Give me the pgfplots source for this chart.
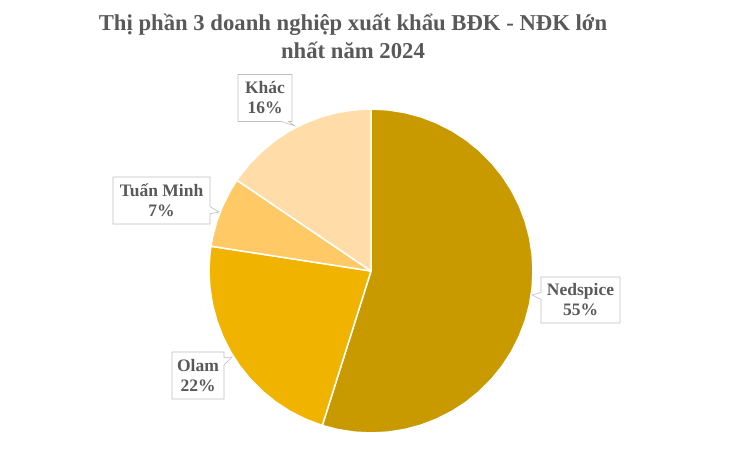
\documentclass[border=0pt]{standalone}
\usepackage{fontspec}
\setmainfont{Liberation Serif}
\usepackage{pgfplots}
\pgfplotsset{compat=1.18}
\usetikzlibrary{shapes.callouts}
\definecolor{cNed}{HTML}{C89A00}
\definecolor{cOlam}{HTML}{F0B300}
\definecolor{cTuan}{HTML}{FFC966}
\definecolor{cKhac}{HTML}{FFDCA8}
\definecolor{txt}{HTML}{595959}
\definecolor{bord}{HTML}{BFBFBF}
\begin{document}
\begin{tikzpicture}
% Shares: Nedspice 54.9, Olam 22.6, Tuan Minh 7.0, Khac 15.5 (clockwise from top)
\begin{axis}[
  scale only axis, width=743bp, height=471bp,
  xmin=-371, xmax=372, ymin=-200, ymax=271,
  hide axis, clip=false,
]
\path (rel axis cs:0,0) rectangle (rel axis cs:1,1);
\addplot[fill=cNed, draw=white, line width=1.5pt, data cs=polar] coordinates {
(0,0) (90,162) (84,162) (78,162) (72,162) (66,162) (60,162) (54,162) (48,162) (42,162) (36,162)
(30,162) (24,162) (18,162) (12,162) (6,162) (0,162) (-6,162) (-12,162) (-18,162) (-24,162)
(-30,162) (-36,162) (-42,162) (-48,162) (-54,162) (-60,162) (-66,162) (-72,162) (-78,162)
(-84,162) (-90,162) (-96,162) (-102,162) (-107.5,162) (0,0)};
\addplot[fill=cOlam, draw=white, line width=1.5pt, data cs=polar] coordinates {
(0,0) (-107.5,162) (-114,162) (-120,162) (-126,162) (-132,162) (-138,162) (-144,162) (-150,162)
(-156,162) (-162,162) (-168,162) (-174,162) (-180,162) (-186,162) (-188.8,162) (0,0)};
\addplot[fill=cTuan, draw=white, line width=1.5pt, data cs=polar] coordinates {
(0,0) (-188.8,162) (-192,162) (-198,162) (-204,162) (-210,162) (-214.1,162) (0,0)};
\addplot[fill=cKhac, draw=white, line width=1.5pt, data cs=polar] coordinates {
(0,0) (-214.1,162) (-216,162) (-222,162) (-228,162) (-234,162) (-240,162) (-246,162)
(-252,162) (-258,162) (-264,162) (-270,162) (0,0)};

\tikzset{lbl/.style={rectangle callout, draw=bord, fill=white, line width=0.6pt,
  align=center, text=txt, font=\fontsize{17.5bp}{20bp}\selectfont\bfseries,
  inner xsep=4bp, inner ysep=3bp, callout pointer width=7bp}}

\node[anchor=base, text=txt, font=\fontsize{22.7bp}{28bp}\selectfont\bfseries]
  at (axis cs:-18,240) {Thị phần 3 doanh nghiệp xuất khẩu BĐK - NĐK lớn};
\node[anchor=base, text=txt, font=\fontsize{22.7bp}{28bp}\selectfont\bfseries]
  at (axis cs:-18,212) {nhất năm 2024};

\node[lbl, minimum width=54bp, minimum height=47bp,
  callout absolute pointer={(axis cs:-76,145)}] at (axis cs:-106,173) {Khác\\16\%};
\node[lbl, minimum width=97bp, minimum height=47bp,
  callout absolute pointer={(axis cs:-152,59)}] at (axis cs:-209.5,70.5) {Tuấn Minh\\7\%};
\node[lbl, minimum width=52bp, minimum height=47bp,
  callout absolute pointer={(axis cs:-139,-86)}] at (axis cs:-173,-104.5) {Olam\\22\%};
\node[lbl, minimum width=79bp, minimum height=46bp,
  callout absolute pointer={(axis cs:161,-24)}] at (axis cs:209.5,-29) {Nedspice\\55\%};
\end{axis}
\end{tikzpicture}
\end{document}
